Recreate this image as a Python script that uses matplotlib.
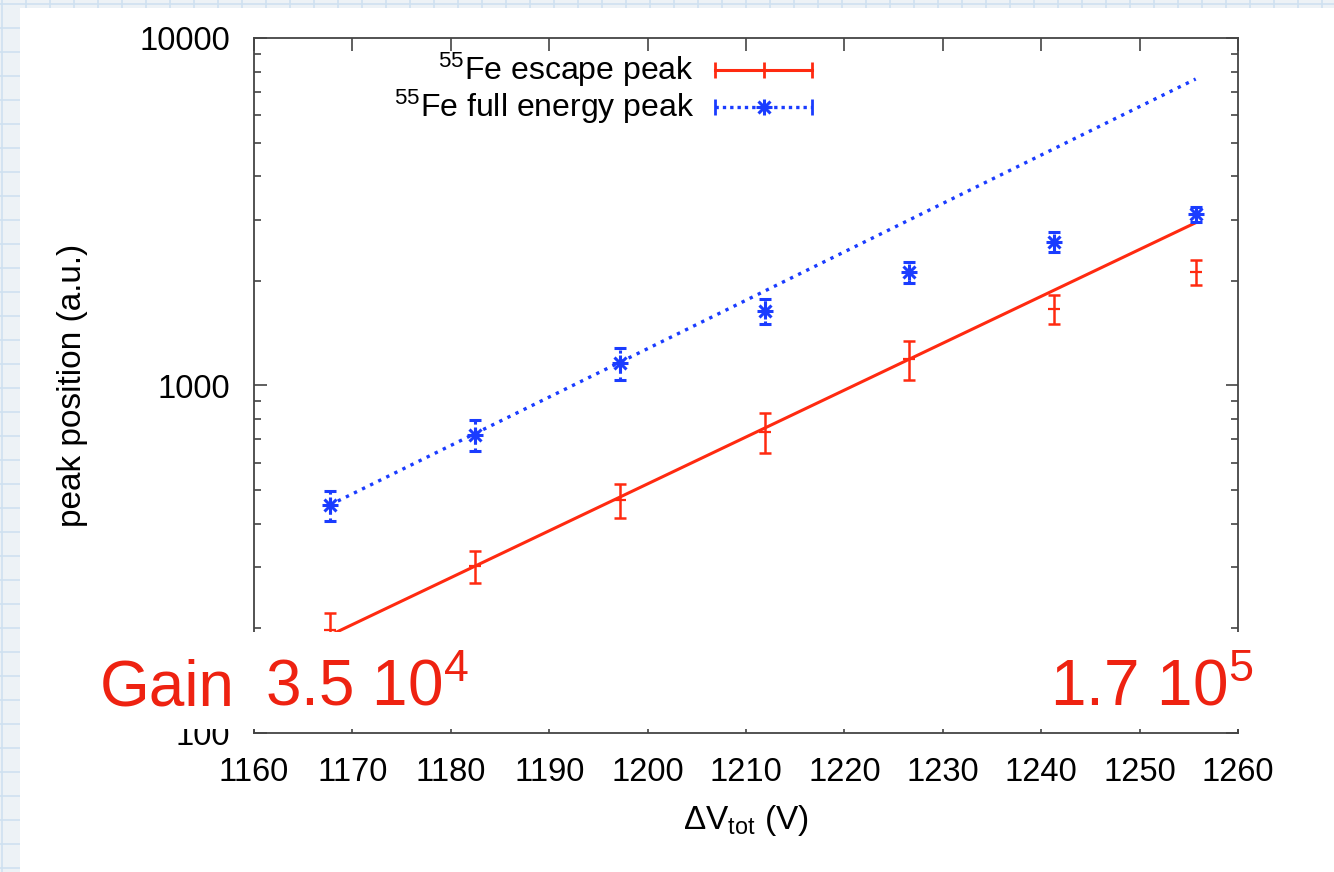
import matplotlib
matplotlib.use("Agg")
import matplotlib.pyplot as plt
from matplotlib.patches import Rectangle
from matplotlib.ticker import LogLocator, NullFormatter, FixedLocator

plt.rcParams['font.family'] = ['Liberation Sans', 'DejaVu Sans']
plt.rcParams['mathtext.fontset'] = 'custom'
plt.rcParams['mathtext.rm'] = 'Liberation Sans'
plt.rcParams['mathtext.it'] = 'Liberation Sans:italic'

# data
voltage = [1167.7, 1182.5, 1197.2, 1211.9, 1226.6, 1241.3, 1255.7]
escape_peak = [198, 303, 468, 736, 1190, 1660, 2126]
escape_err = [23, 32, 51, 96, 150, 160, 175]
full_peak = [453, 721, 1161, 1638, 2117, 2594, 3114]
full_err = [45, 73, 125, 130, 147, 166, 160]

# exponential fits (straight on log axis), end points
fit_v = [1167.7, 1255.7]
escape_fit = [191, 2941]
full_fit = [453, 7620]

x_ticks = [1160, 1170, 1180, 1190, 1200, 1210, 1220, 1230, 1240, 1250, 1260]
y_ticks = [100, 1000, 10000]

RED = '#ff2a10'
BLUE = '#1a3cff'
GAIN_RED = '#ee2211'

W, H = 1334, 872
fig = plt.figure(figsize=(W / 100, H / 100), dpi=100)
fig.patch.set_facecolor('#edf2f6')

# graph paper background with the white slide panel on top
bg = fig.add_axes([0, 0, 1, 1], zorder=-5)
bg.set_xlim(0, W)
bg.set_ylim(H, 0)
bg.axis('off')
for g in range(2, W, 24):
    bg.axvline(g, color='#cfe1f0', lw=1.2, zorder=1)
for g in range(4, H, 24):
    bg.axhline(g, color='#cfe1f0', lw=1.2, zorder=1)
bg.add_patch(Rectangle((20, 8), W - 20, H - 8, facecolor='white',
                       edgecolor='none', zorder=3))

ax = fig.add_axes([254 / W, 1 - 733 / H, 984 / W, 695 / H])
ax.set_facecolor('none')
ax.set_yscale('log')
ax.set_xlim(1160, 1260)
ax.set_ylim(100, 10000)

# fits
ax.plot(fit_v, escape_fit, color=RED, lw=2.2, zorder=2)
ax.plot(fit_v, full_fit, color=BLUE, lw=2.4, dashes=(1, 1.7), zorder=2)

# escape peak points
ax.errorbar(voltage, escape_peak, yerr=escape_err, fmt='none', ecolor=RED,
            elinewidth=1.8, capsize=4.5, capthick=1.8, zorder=3)
ax.plot(voltage, escape_peak, ls='none', marker='_', ms=8, mew=1.6, color=RED, zorder=3)

# full energy peak points, dotted bars
eb = ax.errorbar(voltage, full_peak, yerr=full_err, fmt='none', ecolor=BLUE,
                 elinewidth=2.2, capsize=4.5, capthick=2.2, zorder=3)
for coll in eb.lines[2]:
    coll.set_linestyle((0, (1, 1.2)))
ax.plot(voltage, full_peak, ls='none', marker='+', ms=11, mew=2.2, color=BLUE, zorder=4)
ax.plot(voltage, full_peak, ls='none', marker='x', ms=8, mew=2.2, color=BLUE, zorder=4)

# axes styling, gnuplot look
for sp in ax.spines.values():
    sp.set_color('#444444')
    sp.set_linewidth(1.3)
ax.xaxis.set_major_locator(FixedLocator(x_ticks))
ax.yaxis.set_major_locator(FixedLocator(y_ticks))
ax.yaxis.set_minor_locator(LogLocator(base=10, subs=range(2, 10)))
ax.yaxis.set_minor_formatter(NullFormatter())
ax.set_yticklabels([str(v) for v in y_ticks])
ax.tick_params(which='both', direction='in', top=True, right=True,
               color='#444444', width=1.2, labelsize=23.5, pad=17)
ax.tick_params(which='major', length=9)
ax.tick_params(which='minor', length=5)

ax.set_xlabel(r'$\Delta$V$_{\rm tot}$ (V)', fontsize=24)
ax.xaxis.set_label_coords(0.5, -0.10)
ax.set_ylabel('peak position (a.u.)', fontsize=24)
ax.yaxis.set_label_coords(-0.169, 0.5)

# gnuplot style key
ax.text(0.447, 0.954, r'$^{55}$Fe escape peak', transform=ax.transAxes,
        ha='right', va='center', fontsize=23)
ax.text(0.447, 0.901, r'$^{55}$Fe full energy peak', transform=ax.transAxes,
        ha='right', va='center', fontsize=23)
kx = [0.4685, 0.5178, 0.567]
ax.plot(kx, [0.954] * 3, transform=ax.transAxes, color=RED, lw=2.2,
        marker='|', ms=12, mew=2, clip_on=False)
ax.plot([kx[0], kx[2]], [0.901] * 2, transform=ax.transAxes, color=BLUE, lw=2.4,
        dashes=(1, 1.2), marker='|', ms=12, mew=2, clip_on=False)
ax.plot([kx[1]], [0.901], transform=ax.transAxes, color=BLUE, marker='+', ms=11, mew=2.2)
ax.plot([kx[1]], [0.901], transform=ax.transAxes, color=BLUE, marker='x', ms=8, mew=2.2)

# white overlay with gain annotation
fig.patches.append(Rectangle((95 / W, 1 - 729 / H), 1153 / W, 97 / H,
                             transform=fig.transFigure, facecolor='white',
                             edgecolor='none', zorder=5))
fig.text(100 / W, 1 - 706 / H, 'Gain', color=GAIN_RED, fontsize=46,
         va='baseline', ha='left', zorder=6)
fig.text(265 / W, 1 - 706 / H, r'3.5 10$^{4}$', color=GAIN_RED, fontsize=46,
         va='baseline', ha='left', zorder=6)
fig.text(1050 / W, 1 - 706 / H, r'1.7 10$^{5}$', color=GAIN_RED, fontsize=46,
         va='baseline', ha='left', zorder=6)

fig.savefig('out.png', dpi=100, facecolor=fig.get_facecolor())
